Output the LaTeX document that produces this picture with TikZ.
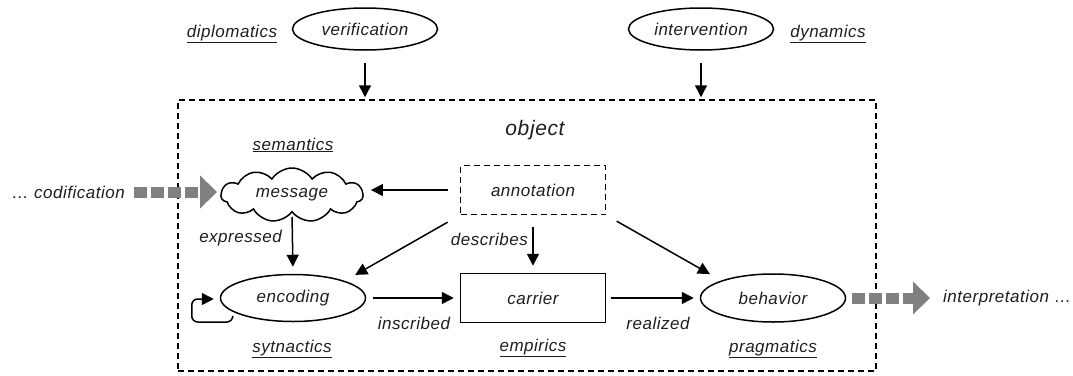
\documentclass[tikz,border=0pt]{standalone}
\usepackage{fontspec}
\setmainfont{Liberation Sans}[LetterSpace=3]
\usetikzlibrary{arrows.meta,shapes.symbols,shapes.geometric,calc}
\definecolor{txt}{RGB}{30,30,30}
\definecolor{grayarrow}{RGB}{128,128,128}
\begin{document}
\begin{tikzpicture}[x=1pt,y=-1pt,
  font=\fontsize{17}{20}\selectfont\itshape,
  every node/.style={text=txt},
  ell/.style={draw=black, ellipse, line width=1.5pt, minimum width=145pt, minimum height=47pt, inner sep=0pt},
  boxn/.style={draw=black, rectangle, line width=1.5pt, minimum width=145pt, minimum height=49pt, inner sep=0pt},
  conn/.style={-{Triangle[length=12pt,width=12pt]}, line width=1.5pt, shorten <=6pt, shorten >=6pt},
  garrow/.style={draw=grayarrow, line width=11pt, dash pattern=on 13pt off 4pt, -{Triangle[length=17pt,width=32pt]}},
  lbl/.style={inner sep=1pt}
]
\useasboundingbox (0,0) rectangle (1073,375);

% outer dashed object box
\node[draw=black, line width=1.5pt, dash pattern=on 6pt off 4pt, minimum width=698pt, minimum height=271pt, inner sep=0pt] (objbox) at (527,235.5) {};
\node[font=\fontsize{21}{24}\selectfont\itshape] (objlbl) at (535,130) {object};

% top ellipses
\node[ell, minimum height=42pt] (verification) at (365,29) {verification};
\node[ell, minimum height=42pt] (intervention) at (701,29) {intervention};
\node[lbl] (diplomatics) at (232,34) {\underline{diplomatics}};
\node[lbl] (dynamics) at (828,34) {\underline{dynamics}};

% inner nodes
\node[draw=black, cloud, cloud puffs=11, cloud puff arc=115, cloud ignores aspect, line width=1.5pt, minimum width=142pt, minimum height=54pt, inner sep=0pt] (message) at (292,195) {message};
\node[boxn, dash pattern=on 6pt off 4pt] (annotation) at (533,190) {annotation};
\node[boxn] (carrier) at (533,298) {carrier};
\node[ell] (encoding) at (293,298) {encoding};
\node[ell, minimum height=48pt] (behavior) at (773,298) {behavior};

% underlined labels
\node[lbl] (semantics) at (293,145) {\underline{semantics}};
\node[lbl] (sytnactics) at (292,349) {\underline{sytnactics}};
\node[lbl] (empirics) at (533,348) {\underline{empirics}};
\node[lbl] (pragmatics) at (773,349) {\underline{pragmatics}};

% edge labels
\node[lbl, anchor=east] (expressed) at (283,238) {expressed};
\node[lbl, anchor=east] (describes) at (529,239) {describes};
\node[lbl] (inscribed) at (414,323) {inscribed};
\node[lbl] (realized) at (658,323) {realized};

% outside labels
\node[lbl, anchor=east] (codification) at (126,192) {\dots\ codification};
\node[lbl, anchor=west] (interpretation) at (942,298) {interpretation \dots};

% connectors
\draw[conn, shorten <=12pt, shorten >=2pt] (verification.south) -- (verification.south |- objbox.north);
\draw[conn, shorten <=12pt, shorten >=2pt] (intervention.south) -- (intervention.south |- objbox.north);
\draw[conn, shorten <=12pt, shorten >=7pt] (annotation.west) -- (annotation.west -| message.east);
\draw[conn, shorten <=4pt, shorten >=7pt] (message.south) -- (encoding.north);
\draw[conn, shorten <=12pt, shorten >=7pt] (annotation.south) -- (carrier.north);
\draw[conn, shorten <=7pt, shorten >=6pt] (encoding.east) -- (carrier.west);
\draw[conn, shorten <=5pt, shorten >=6pt] (carrier.east) -- (behavior.west);
\draw[conn, shorten <=14pt, shorten >=12pt] (annotation.south west) -- (encoding.north east);
\draw[conn, shorten <=12pt, shorten >=13pt] (annotation.south east) -- (behavior.north west);
\draw[conn, shorten <=0pt, shorten >=0pt, rounded corners=6pt] ($(encoding.west)+(13,19)$) -- ++(0,5) -| ($(encoding.west)+(-28,1)$) -- ($(encoding.west)+(-6,1)$);

% gray block arrows
\draw[garrow, shorten <=8pt, shorten >=3pt] (codification.east) -- (codification.east -| message.west);
\draw[garrow, shorten <=6pt, shorten >=12pt] (behavior.east) -- (interpretation.west);
\end{tikzpicture}
\end{document}
